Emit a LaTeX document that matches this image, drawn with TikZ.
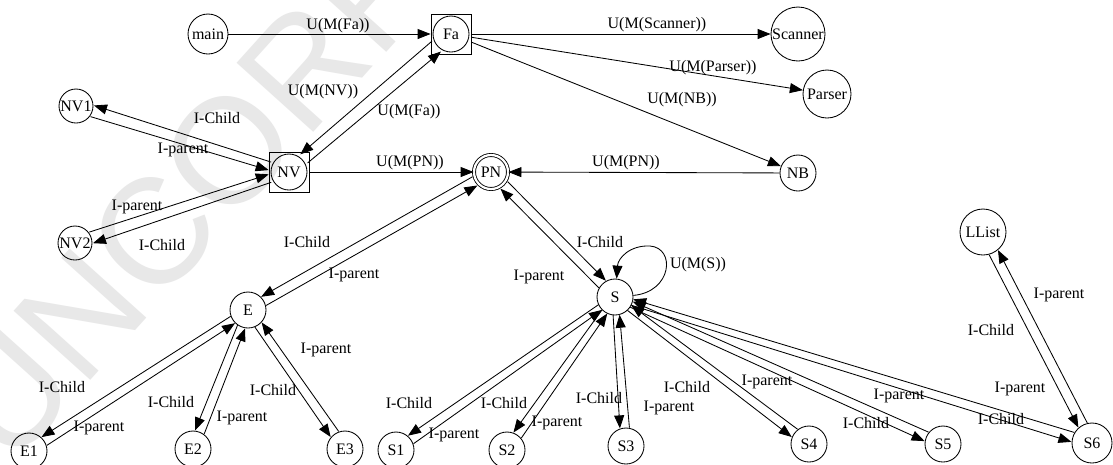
\documentclass[tikz,border=0pt]{standalone}
\usepackage{fontspec}
\setmainfont{Liberation Serif}
\newfontfamily\wmfont{Liberation Sans}
\usetikzlibrary{arrows.meta,calc}

\tikzset{
  st/.style={circle, draw, line width=0.85pt, inner sep=0pt, minimum size=36pt,
             font=\fontsize{16}{16}\selectfont},
  boxed/.style={draw, line width=0.85pt, minimum size=40pt, inner sep=0pt},
  lbl/.style={font=\fontsize{16}{16}\selectfont, inner sep=0pt},
  arr/.style={line width=0.85pt, -{Triangle[length=13pt,width=10pt]}},
  pairedge/.style={arr, shorten <=18pt, shorten >=18pt},
  wm/.style={text=black!9, font=\wmfont\fontsize{150}{150}\selectfont, inner sep=0pt},
}

% edge offset to the right / left of its direction of travel
\newcommand\linkR[5][]{\draw[pairedge,#1] ($(#2)!#4!-90:(#3)$) -- ($(#3)!#5!90:(#2)$);}
\newcommand\linkL[5][]{\draw[pairedge,#1] ($(#2)!#4!90:(#3)$) -- ($(#3)!#5!-90:(#2)$);}

\begin{document}
\begin{tikzpicture}[x=1pt,y=-1pt]
\useasboundingbox[fill=white] (0,0) rectangle (1113,464);
\begin{scope}
\clip (0,0) rectangle (1113,464);
\node[wm, anchor=base west, rotate=48] (wmark) at (10,470) {UNCORRECTED PROOF};
\end{scope}

% nodes
\node[st, minimum size=40pt] (main) at (208,34) {main};
\node[boxed] (fabox) at (451,34) {};
\node[st] (fa) at (451,34) {Fa};
\node[st, minimum size=54pt] (scanner) at (798,34) {Scanner};
\node[st, minimum size=48pt] (parser) at (827,94) {Parser};
\node[st, minimum size=34pt] (nv1) at (76,106) {NV1};
\node[boxed] (nvbox) at (289,172) {};
\node[st] (nv) at (289,172) {NV};
\node[st, double, double distance=2.2pt, minimum size=34pt] (pn) at (491,172) {PN};
\node[st] (nb) at (798,173) {NB};
\node[st, minimum size=34pt] (nv2) at (75,243) {NV2};
\node[st, minimum size=46pt] (llist) at (983,232) {LList};
\node[st] (e) at (248,310) {E};
\node[st] (s) at (615,297) {S};
\node[st] (e1) at (29,451) {E1};
\node[st] (e2) at (193,449) {E2};
\node[st] (e3) at (345,449) {E3};
\node[st] (s1) at (396,450) {S1};
\node[st] (s2) at (507,450) {S2};
\node[st] (s3) at (626,446) {S3};
\node[st] (s4) at (809,444) {S4};
\node[st] (s5) at (943,444) {S5};
\node[st, minimum size=40pt] (s6) at (1092,443) {S6};

% single edges
\draw[arr] (main) -- (fabox);
\draw[arr] (fabox) -- (scanner);
\draw[arr] (fabox) -- (parser);
\draw[arr] (fabox) -- (nb);
\draw[arr] (nvbox) -- (pn);
\draw[arr] (nb) -- (pn);
\draw[arr] (s.5) .. controls (672,292) and (676,248) .. (650,246)
                 .. controls (630,245) and (618,258) .. (s.85);

% paired edges
\linkR[shorten <=19pt, shorten >=20pt]{fa}{nv}{7pt}{6pt}
\linkR[shorten <=20pt, shorten >=19pt]{nv}{fa}{5pt}{7pt}
\linkR[shorten <=20pt, shorten >=17pt]{nv}{nv1}{4pt}{6pt}
\linkR[shorten <=17pt, shorten >=20pt]{nv1}{nv}{6pt}{4pt}
\linkL[shorten <=17pt, shorten >=20pt]{nv2}{nv}{6pt}{4pt}
\linkL[shorten <=20pt, shorten >=17pt]{nv}{nv2}{4pt}{6pt}
\linkR[shorten <=18.5pt]{pn}{e}{5pt}{5pt}
\linkR[shorten >=18.5pt]{e}{pn}{5pt}{5pt}
\linkL[shorten <=18.5pt]{pn}{s}{5pt}{5pt}
\linkL[shorten >=18.5pt]{s}{pn}{5pt}{5pt}
\linkR{e}{e1}{4pt}{5pt}
\linkR{e1}{e}{5pt}{4pt}
\linkR{e}{e2}{4pt}{5pt}
\linkR{e2}{e}{5pt}{4pt}
\linkR{e}{e3}{4pt}{5pt}
\linkR{e3}{e}{5pt}{4pt}
\linkR{s}{s1}{3pt}{5pt}
\linkR{s1}{s}{5pt}{3pt}
\linkR{s}{s2}{3pt}{5pt}
\linkR{s2}{s}{5pt}{3pt}
\linkR{s}{s3}{3pt}{5pt}
\linkR{s3}{s}{5pt}{3pt}
\linkR{s}{s4}{3pt}{5pt}
\linkR{s4}{s}{5pt}{3pt}
\linkR{s}{s5}{3pt}{5pt}
\linkR{s5}{s}{5pt}{3pt}
\linkR[shorten >=20pt]{s}{s6}{3pt}{5pt}
\linkR[shorten <=20pt]{s6}{s}{5pt}{3pt}
\linkR[shorten <=23pt, shorten >=20pt]{llist}{s6}{5pt}{5pt}
\linkR[shorten <=20pt, shorten >=23pt]{s6}{llist}{5pt}{5pt}

% edge labels
\node[lbl] (lmainfa) at (338,26) {U(M(Fa))};
\node[lbl] (lscanner) at (657,25) {U(M(Scanner))};
\node[lbl] (lparser) at (713,68) {U(M(Parser))};
\node[lbl] (lnb) at (682,100) {U(M(NB))};
\node[lbl] (lnv) at (323,92) {U(M(NV))};
\node[lbl] (lfa) at (409,112) {U(M(Fa))};
\node[lbl] (lnvpn) at (410,163) {U(M(PN))};
\node[lbl] (lnbpn) at (626,163) {U(M(PN))};
\node[lbl] (lnv1c) at (217,118) {I-Child};
\node[lbl] (lnv1p) at (183,150) {I-parent};
\node[lbl] (lnv2p) at (137,207) {I-parent};
\node[lbl] (lnv2c) at (162,245) {I-Child};
\node[lbl] (lec) at (307,242) {I-Child};
\node[lbl] (lep) at (354,275) {I-parent};
\node[lbl] (lsc) at (600,242) {I-Child};
\node[lbl] (lsp) at (539,277) {I-parent};
\node[lbl] (lself) at (698,265) {U(M(S))};
\node[lbl] (le1c) at (62,387) {I-Child};
\node[lbl] (le1p) at (99,428) {I-parent};
\node[lbl] (le2c) at (171,402) {I-Child};
\node[lbl] (le2p) at (242,418) {I-parent};
\node[lbl] (le3c) at (273,390) {I-Child};
\node[lbl] (le3p) at (326,350) {I-parent};
\node[lbl] (ls1c) at (409,403) {I-Child};
\node[lbl] (ls1p) at (454,435) {I-parent};
\node[lbl] (ls2c) at (504,403) {I-Child};
\node[lbl] (ls2p) at (557,423) {I-parent};
\node[lbl] (ls3c) at (599,398) {I-Child};
\node[lbl] (ls3p) at (669,408) {I-parent};
\node[lbl] (ls4c) at (687,387) {I-Child};
\node[lbl] (ls4p) at (767,382) {I-parent};
\node[lbl] (ls5p) at (899,396) {I-parent};
\node[lbl] (ls5c) at (866,423) {I-Child};
\node[lbl] (ls6p) at (1020,389) {I-parent};
\node[lbl] (ls6c) at (1001,419) {I-Child};
\node[lbl] (llc) at (991,330) {I-Child};
\node[lbl] (llp) at (1059,295) {I-parent};
\end{tikzpicture}
\end{document}
